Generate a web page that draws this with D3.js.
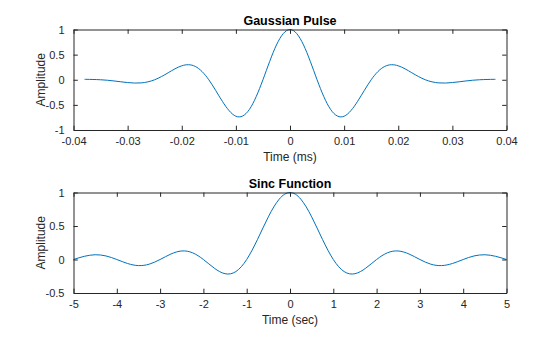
<!DOCTYPE html>
<html>
<head>
<meta charset="utf-8">
<script src="https://cdn.jsdelivr.net/npm/d3@7"></script>
<style>
  html, body { margin: 0; padding: 0; background: #fff; }
  svg { display: block; font-family: "Liberation Sans", Arial, Helvetica, sans-serif; }
</style>
</head>
<body>
<svg id="fig" width="560" height="337"></svg>
<script>
// Gaussian RF pulse (50 kHz, 60% bandwidth), time in ms
const pulseTime = [
  -0.0379, -0.0375, -0.035, -0.0325, -0.03, -0.0275, -0.025, -0.0225, -0.02, -0.0175,
  -0.015, -0.0125, -0.01, -0.0075, -0.005, -0.0025, 0,
  0.0025, 0.005, 0.0075, 0.01, 0.0125, 0.015, 0.0175, 0.02, 0.0225,
  0.025, 0.0275, 0.03, 0.0325, 0.035, 0.0375, 0.0379
];
const pulseAmp = [
  0.0079, 0.0078, 0.0000, -0.0240, -0.0559, -0.0627, 0.0000, 0.1397, 0.2776, 0.2651,
  0.0000, -0.4286, -0.7259, -0.5905, 0.0000, 0.6931, 1.0000,
  0.6931, 0.0000, -0.5905, -0.7259, -0.4286, 0.0000, 0.2651, 0.2776, 0.1397,
  0.0000, -0.0627, -0.0559, -0.0240, 0.0000, 0.0078, 0.0079
];

// Sinc function, time in seconds
const sincTime = [
  -5, -4.75, -4.5, -4.25, -4, -3.75, -3.5, -3.25, -3, -2.75, -2.5, -2.25, -2, -1.75, -1.5, -1.25, -1,
  -0.75, -0.5, -0.25, 0, 0.25, 0.5, 0.75,
  1, 1.25, 1.5, 1.75, 2, 2.25, 2.5, 2.75, 3, 3.25, 3.5, 3.75, 4, 4.25, 4.5, 4.75, 5
];
const sincAmp = [
  0, 0.0474, 0.0707, 0.0530, 0, -0.0600, -0.0909, -0.0693, 0, 0.0818, 0.1273, 0.1000, 0, -0.1286, -0.2122, -0.1801, 0,
  0.3001, 0.6366, 0.9003, 1.0000, 0.9003, 0.6366, 0.3001,
  0, -0.1801, -0.2122, -0.1286, 0, 0.1000, 0.1273, 0.0818, 0, -0.0693, -0.0909, -0.0600, 0, 0.0530, 0.0707, 0.0474, 0
];

const pulseXTicks = [-0.04, -0.03, -0.02, -0.01, 0, 0.01, 0.02, 0.03, 0.04];
const pulseYTicks = [-1, -0.5, 0, 0.5, 1];
const sincXTicks = [-5, -4, -3, -2, -1, 0, 1, 2, 3, 4, 5];
const sincYTicks = [-0.5, 0, 0.5, 1];

const panels = [
  { title: "Gaussian Pulse", xlabel: "Time (ms)", ylabel: "Amplitude",
    x: pulseTime, y: pulseAmp, xdom: [-0.04, 0.04], ydom: [-1, 1],
    xticks: pulseXTicks, yticks: pulseYTicks, top: 29.5, bottom: 130 },
  { title: "Sinc Function", xlabel: "Time (sec)", ylabel: "Amplitude",
    x: sincTime, y: sincAmp, xdom: [-5, 5], ydom: [-0.5, 1],
    xticks: sincXTicks, yticks: sincYTicks, top: 192.5, bottom: 293 }
];

const svg = d3.select("#fig");
const left = 73.5, right = 506.5;
const axisColor = "#262626";
const tickLen = 4.3;

function fmt(v) {
  if (v === 0) return "0";
  return String(+v.toFixed(4));
}

panels.forEach(p => {
  const x = d3.scaleLinear().domain(p.xdom).range([left, right]);
  const y = d3.scaleLinear().domain(p.ydom).range([p.bottom, p.top]);
  const g = svg.append("g");

  // plotted curve
  const line = d3.line()
    .x((d, i) => x(p.x[i]))
    .y((d, i) => y(p.y[i]))
    .curve(d3.curveNatural);
  g.append("path")
    .datum(p.y)
    .attr("d", line)
    .attr("fill", "none")
    .attr("stroke", "#0072BD")
    .attr("stroke-width", 1);

  // axes: ticks inward on all four sides (box on)
  const styleAxis = sel => {
    sel.selectAll(".domain").attr("stroke", axisColor);
    sel.selectAll(".tick line").attr("stroke", axisColor);
    sel.selectAll(".tick text").attr("fill", axisColor).style("font-size", "11px");
  };
  g.append("g").attr("transform", `translate(0,${p.bottom})`)
    .call(d3.axisBottom(x).tickValues(p.xticks).tickFormat(fmt).tickSizeInner(-tickLen).tickSizeOuter(0).tickPadding(7))
    .call(styleAxis);
  g.append("g").attr("transform", `translate(0,${p.top})`)
    .call(d3.axisTop(x).tickValues(p.xticks).tickFormat("").tickSizeInner(-tickLen).tickSizeOuter(0))
    .call(styleAxis);
  g.append("g").attr("transform", `translate(${left},0)`)
    .call(d3.axisLeft(y).tickValues(p.yticks).tickFormat(fmt).tickSizeInner(-tickLen).tickSizeOuter(0).tickPadding(9))
    .call(styleAxis);
  g.append("g").attr("transform", `translate(${right},0)`)
    .call(d3.axisRight(y).tickValues(p.yticks).tickFormat("").tickSizeInner(-tickLen).tickSizeOuter(0))
    .call(styleAxis);

  // title and labels
  const cx = (left + right) / 2;
  g.append("text")
    .attr("x", cx).attr("y", p.top - 5)
    .attr("text-anchor", "middle")
    .attr("fill", "#000")
    .style("font-size", "12.5px").style("font-weight", "bold")
    .text(p.title);
  g.append("text")
    .attr("x", cx).attr("y", p.bottom + 31)
    .attr("text-anchor", "middle")
    .attr("fill", axisColor)
    .style("font-size", "12px")
    .text(p.xlabel);
  g.append("text")
    .attr("transform", `translate(45,${(p.top + p.bottom) / 2}) rotate(-90)`)
    .attr("text-anchor", "middle")
    .attr("fill", axisColor)
    .style("font-size", "12px")
    .text(p.ylabel);
});
</script>
</body>
</html>
